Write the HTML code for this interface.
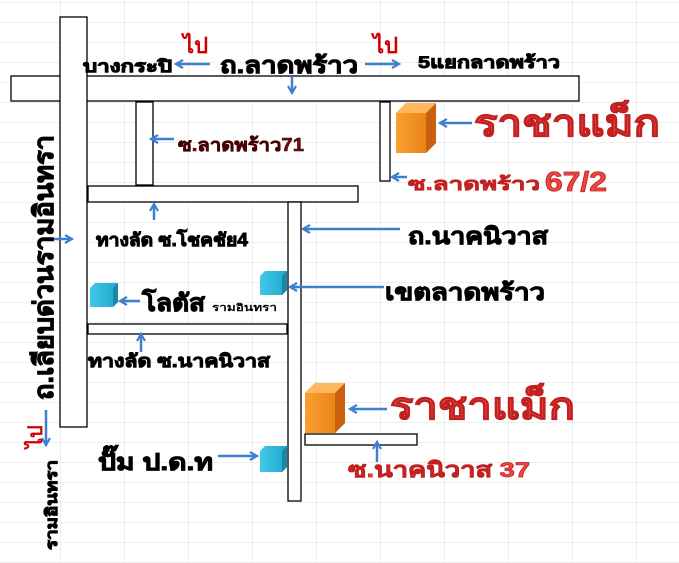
<!DOCTYPE html>
<html><head><meta charset="utf-8"><style>
html,body{margin:0;padding:0;background:#fff;}
svg{display:block;}
text{font-family:"Liberation Sans","DejaVu Sans",sans-serif;font-weight:bold;}
.b{stroke:#000;stroke-width:0.9;}
</style></head><body>
<svg width="679" height="563" viewBox="0 0 679 563" xmlns="http://www.w3.org/2000/svg">
<defs>
<pattern id="grid" width="64" height="20" patternUnits="userSpaceOnUse" x="-4" y="2">
<path d="M0 0H64M0 0V20" stroke="#dcdcdc" stroke-width="1" fill="none"/>
</pattern>
<marker id="ah" markerWidth="10" markerHeight="10" refX="8" refY="5" orient="auto" markerUnits="userSpaceOnUse">
<path d="M1 1L8 5L1 9" fill="none" stroke="#3f7fd0" stroke-width="2.2"/>
</marker>
<linearGradient id="og" x1="0" x2="1"><stop offset="0" stop-color="#f8a030"/><stop offset="1" stop-color="#e87a10"/></linearGradient>
<linearGradient id="bg" x1="0" x2="1"><stop offset="0" stop-color="#40c8e8"/><stop offset="1" stop-color="#1fa8cc"/></linearGradient>
</defs>
<rect width="679" height="563" fill="#fff"/>
<rect width="679" height="563" fill="url(#grid)"/>

<g fill="#fff" stroke="#000" stroke-width="1.3">
<rect x="11" y="76" width="568" height="25"/>
<rect x="60" y="17" width="27" height="410"/>
<rect x="136" y="102" width="17" height="83"/>
<rect x="88" y="186" width="270" height="16"/>
<rect x="288" y="202" width="13" height="299"/>
<rect x="380" y="102" width="10" height="79"/>
<rect x="88" y="324" width="199" height="10"/>
<rect x="305" y="434" width="112" height="11"/>
</g>

<g stroke="#3f7fd0" stroke-width="2.5" fill="none" marker-end="url(#ah)">
<line x1="210" y1="64" x2="176" y2="64"/>
<line x1="365" y1="64" x2="399" y2="64"/>
<line x1="292" y1="77" x2="292" y2="93"/>
<line x1="472" y1="123" x2="440" y2="123"/>
<line x1="407" y1="177" x2="392" y2="177"/>
<line x1="174" y1="139" x2="151" y2="139"/>
<line x1="154" y1="220" x2="154" y2="204"/>
<line x1="53" y1="239" x2="72" y2="239"/>
<line x1="400" y1="229" x2="303" y2="229"/>
<line x1="140" y1="301" x2="120" y2="301"/>
<line x1="384" y1="287" x2="290" y2="287"/>
<line x1="141" y1="352" x2="141" y2="334"/>
<line x1="387" y1="409" x2="350" y2="409"/>
<line x1="377" y1="462" x2="377" y2="442"/>
<line x1="218" y1="456" x2="257" y2="456"/>
<line x1="46" y1="410" x2="46" y2="445"/>
</g>

<g>
<path d="M396 113L406 103H436V143L426 153H396Z" fill="url(#og)"/>
<path d="M426 113L436 103V143L426 153Z" fill="#c86010"/>
<path d="M396 113L406 103H436L426 113Z" fill="#ffb860"/>
<path d="M305 393L315 383H345V423L335 433H305Z" fill="url(#og)"/>
<path d="M335 393L345 383V423L335 433Z" fill="#c86010"/>
<path d="M305 393L315 383H345L335 393Z" fill="#ffb860"/>
</g>
<g>
<path d="M90 288L95 283H118V302L113 307H90Z" fill="url(#bg)"/><path d="M113 288L118 283V302L113 307Z" fill="#1888aa"/>
<path d="M260 276L265 271H287V290L282 295H260Z" fill="url(#bg)"/><path d="M282 276L287 271V290L282 295Z" fill="#1888aa"/>
<path d="M260 451L265 446H287V467L282 472H260Z" fill="url(#bg)"/><path d="M282 451L287 446V467L282 472Z" fill="#1888aa"/>
</g>

<text x="183" y="53" font-size="22" fill="#d00000">ไป</text>
<text x="373" y="53" font-size="22" fill="#d00000">ไป</text>
<text class="b" x="83" y="72" font-size="17" fill="#000" textLength="89" lengthAdjust="spacingAndGlyphs">บางกระปิ</text>
<text class="b" x="220" y="73" font-size="23" fill="#000" textLength="138" lengthAdjust="spacingAndGlyphs">ถ.ลาดพร้าว</text>
<text class="b" x="418" y="68" font-size="17" fill="#000" textLength="142" lengthAdjust="spacingAndGlyphs">5แยกลาดพร้าว</text>
<text x="474" y="136" font-size="38" fill="#ee4444" stroke="#c02020" stroke-width="1" textLength="186" lengthAdjust="spacingAndGlyphs">ราชาแม็ก</text>
<text x="408" y="190" font-size="18" fill="#ee4444" stroke="#c02020" stroke-width="0.6" textLength="132" lengthAdjust="spacingAndGlyphs">ซ.ลาดพร้าว</text>
<text x="545" y="191" font-size="28" fill="#ee4444" stroke="#c02020" stroke-width="0.8" textLength="62" lengthAdjust="spacingAndGlyphs">67/2</text>
<text x="178" y="151" font-size="18" fill="#6a1010" stroke="#400" stroke-width="0.6" textLength="126" lengthAdjust="spacingAndGlyphs">ซ.ลาดพร้าว71</text>
<text class="b" x="96" y="246" font-size="18" fill="#000" textLength="152" lengthAdjust="spacingAndGlyphs">ทางลัด ซ.โชคชัย4</text>
<text class="b" x="408" y="244" font-size="23" fill="#000" textLength="140" lengthAdjust="spacingAndGlyphs">ถ.นาคนิวาส</text>
<text class="b" x="142" y="311" font-size="24" fill="#000" textLength="63" lengthAdjust="spacingAndGlyphs">โลตัส</text>
<text x="212" y="311" font-size="10" fill="#000" textLength="65" lengthAdjust="spacingAndGlyphs">รามอินทรา</text>
<text class="b" x="385" y="300" font-size="23" fill="#000" textLength="160" lengthAdjust="spacingAndGlyphs">เขตลาดพร้าว</text>
<text class="b" x="88" y="367" font-size="18" fill="#000" textLength="182" lengthAdjust="spacingAndGlyphs">ทางลัด ซ.นาคนิวาส</text>
<text x="390" y="419" font-size="38" fill="#ee4444" stroke="#c02020" stroke-width="1" textLength="185" lengthAdjust="spacingAndGlyphs">ราชาแม็ก</text>
<text x="348" y="477" font-size="21" fill="#ee4444" stroke="#c02020" stroke-width="0.7" textLength="182" lengthAdjust="spacingAndGlyphs">ซ.นาคนิวาส 37</text>
<text class="b" x="98" y="470" font-size="23" fill="#000" textLength="115" lengthAdjust="spacingAndGlyphs">ปั๊ม ป.ด.ท</text>

<text class="b" transform="translate(53,400) rotate(-90)" font-size="27" fill="#000" textLength="265" lengthAdjust="spacingAndGlyphs">ถ.เลียบด่วนรามอินทรา</text>
<text transform="translate(42,448) rotate(-90)" font-size="20" fill="#d00000">ไป</text>
<text class="b" transform="translate(57,550) rotate(-90)" font-size="16" fill="#000" textLength="90" lengthAdjust="spacingAndGlyphs">รามอินทรา</text>
</svg>
</body></html>
